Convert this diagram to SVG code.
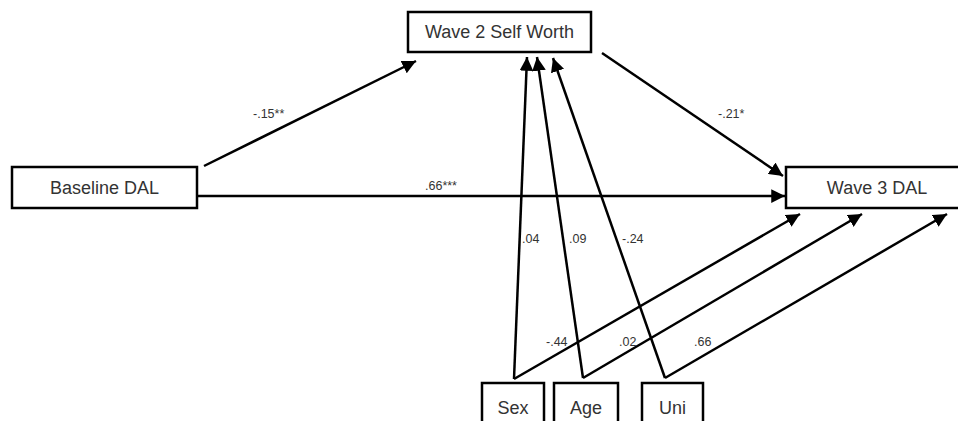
<svg xmlns="http://www.w3.org/2000/svg" width="958" height="421" viewBox="0 0 958 421">
<defs>
<marker id="ah" viewBox="0 0 10 10" refX="10" refY="5" markerWidth="5.5" markerHeight="5.5" orient="auto" markerUnits="strokeWidth">
<path d="M0,0 L10,5 L0,10 z" fill="#000"/>
</marker>
<style>
.box{fill:#fff;stroke:#000;stroke-width:2.5}
.nt{font-family:"Liberation Sans",Arial,sans-serif;font-size:18px;fill:#333;text-anchor:middle}
.lt{font-family:"Liberation Sans",Arial,sans-serif;font-size:12.5px;fill:#333}
.c{stroke:#000;stroke-width:2.5;fill:none}
.a{marker-end:url(#ah)}
</style>
</defs>
<rect width="958" height="421" fill="#fff"/>
<g id="connectors">
<line class="c a" x1="204" y1="166" x2="416" y2="61"/>
<line class="c a" x1="602" y1="53" x2="783" y2="176"/>
<line class="c a" x1="198" y1="196" x2="785" y2="196"/>
<line class="c a" x1="514" y1="379" x2="527" y2="57"/>
<line class="c a" x1="583" y1="378" x2="537" y2="57"/>
<line class="c a" x1="665" y1="378" x2="553" y2="58"/>
<line class="c a" x1="514" y1="379" x2="800" y2="214"/>
<line class="c a" x1="583" y1="378" x2="862" y2="214"/>
<line class="c a" x1="665" y1="378" x2="947" y2="214"/>
</g>
<g id="labels">
<text class="lt" x="253" y="118">-.15**</text>
<text class="lt" x="718" y="118">-.21*</text>
<text class="lt" x="425" y="190">.66***</text>
<text class="lt" x="522" y="243">.04</text>
<text class="lt" x="569" y="243">.09</text>
<text class="lt" x="622" y="243">-.24</text>
<text class="lt" x="546" y="346">-.44</text>
<text class="lt" x="619" y="346">.02</text>
<text class="lt" x="694" y="346">.66</text>
</g>
<g id="node-w2">
<rect class="box" x="408" y="12" width="183" height="40"/>
<text class="nt" x="499.5" y="38">Wave 2 Self Worth</text>
</g>
<g id="node-baseline">
<rect class="box" x="12" y="167" width="185" height="41"/>
<text class="nt" x="104.5" y="194">Baseline DAL</text>
</g>
<g id="node-w3">
<rect class="box" x="786" y="167" width="180" height="41"/>
<text class="nt" x="877" y="194">Wave 3 DAL</text>
</g>
<g id="node-sex">
<rect class="box" x="482" y="383" width="62" height="45"/>
<text class="nt" x="513" y="414">Sex</text>
</g>
<g id="node-age">
<rect class="box" x="554" y="383" width="64" height="45"/>
<text class="nt" x="586" y="414">Age</text>
</g>
<g id="node-uni">
<rect class="box" x="642" y="383" width="61" height="45"/>
<text class="nt" x="672.5" y="414">Uni</text>
</g>
</svg>
